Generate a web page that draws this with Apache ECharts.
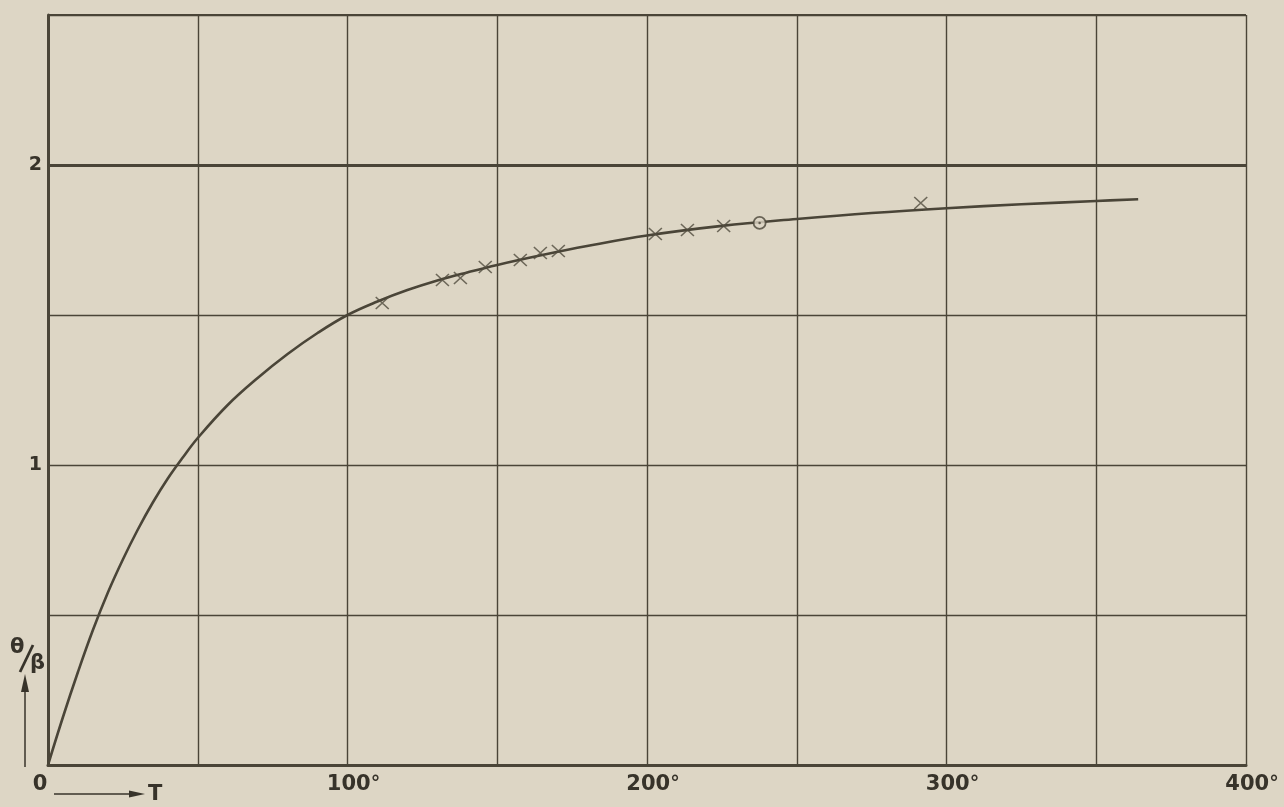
<!DOCTYPE html>
<html>
<head>
<meta charset="utf-8">
<script src="https://cdn.jsdelivr.net/npm/echarts@6/dist/echarts.min.js"></script>
<style>
  html, body { margin: 0; padding: 0; background: #ddd6c5; }
  #chart { width: 1284px; height: 807px; }
</style>
</head>
<body>
<div id="chart"></div>
<script>
// Smooth fitted curve θ/β versus T
const curveT = [0, 5, 10, 15, 20, 25, 30, 35, 40, 45, 50, 60, 70, 80, 90, 100, 110, 120, 130, 140, 150, 165, 180, 200, 225, 250, 275, 300, 325, 350, 364];
const curveV = [0, 0.16, 0.31, 0.45, 0.575, 0.685, 0.785, 0.875, 0.955, 1.025, 1.09, 1.2, 1.29, 1.37, 1.44, 1.5, 1.545, 1.583, 1.615, 1.642, 1.667, 1.7, 1.73, 1.765, 1.797, 1.82, 1.84, 1.856, 1.869, 1.88, 1.886];
// measured points (crosses)
const crossT = [111.6, 131.7, 137.7, 146, 157.7, 164.4, 170.4, 202.8, 213.5, 225.6, 291.4];
const crossV = [1.54, 1.617, 1.623, 1.66, 1.683, 1.707, 1.713, 1.77, 1.783, 1.797, 1.873];
// measured point (circle)
const circleT = [237.6];
const circleV = [1.807];
// tick labels
const xTickLabels = [0, 100, 200, 300, 400];
const yTickLabels = [1, 2];

const ink = '#4a4538';
const inkText = '#37332a';
const bg = '#ddd6c5';

const chart = echarts.init(document.getElementById('chart'));
const zip = (a, b) => a.map((v, i) => [v, b[i]]);

chart.setOption({
  backgroundColor: bg,
  animation: false,
  grid: { left: 48, right: 38, top: 15, bottom: 42, show: false },
  xAxis: {
    type: 'value', min: 0, max: 400, interval: 50,
    axisLine: { show: true, onZero: false, lineStyle: { color: ink, width: 3 } },
    axisTick: { show: false },
    splitLine: { show: true, lineStyle: { color: ink, width: 1.4 } },
    axisLabel: {
      margin: 9,
      formatter: v => {
        if (!xTickLabels.includes(v)) return '';
        if (v === 0) return '{z|0}';
        return '{n|' + v + '}{d|°}';
      },
      rich: {
        z: { fontFamily: 'DejaVu Sans', fontWeight: 'bold', fontSize: 21, color: inkText, padding: [0, 16, 0, 0] },
        n: { fontFamily: 'DejaVu Sans', fontWeight: 'bold', fontSize: 21, color: inkText, padding: [0, 0, 0, 12] },
        d: { fontFamily: 'DejaVu Sans', fontWeight: 'bold', fontSize: 19, color: inkText }
      }
    }
  },
  yAxis: {
    type: 'value', min: 0, max: 2.5, interval: 0.5,
    axisLine: { show: true, onZero: false, lineStyle: { color: ink, width: 3 } },
    axisTick: { show: false },
    splitLine: { show: true, lineStyle: { color: ink, width: 1.4 } },
    axisLabel: {
      margin: 6,
      fontFamily: 'DejaVu Sans', fontWeight: 'bold', fontSize: 19, color: inkText,
      formatter: v => yTickLabels.includes(v) ? String(v) : ''
    }
  },
  series: [
    {
      type: 'line',
      data: zip(curveT, curveV),
      smooth: 0.4,
      showSymbol: false,
      lineStyle: { color: ink, width: 2.6 },
      silent: true,
      z: 3,
      markLine: {
        silent: true,
        symbol: 'none',
        label: { show: false },
        data: [
          { yAxis: 2, lineStyle: { color: ink, width: 2.8, type: 'solid' } },
          { yAxis: 2.5, lineStyle: { color: ink, width: 2.0, type: 'solid' } }
        ]
      }
    },
    {
      type: 'scatter',
      data: zip(crossT, crossV),
      symbol: 'path://M0,0L12,11M12,0L0,11',
      symbolSize: [13, 12],
      itemStyle: { color: 'rgba(0,0,0,0)', borderColor: '#514c3f', borderWidth: 1.5 },
      silent: true,
      z: 4
    },
    {
      type: 'scatter',
      data: zip(circleT, circleV),
      symbol: 'circle',
      symbolSize: 12,
      itemStyle: { color: bg, borderColor: ink, borderWidth: 1.8 },
      silent: true,
      z: 5
    },
    {
      type: 'scatter',
      data: zip(circleT, circleV),
      symbol: 'circle',
      symbolSize: 2.5,
      itemStyle: { color: ink },
      silent: true,
      z: 6
    }
  ],
  graphic: [
    // θ/β axis name with upward arrow
    { type: 'text', left: 10, top: 637, style: { text: 'θ', font: 'bold 21px DejaVu Sans', fill: inkText } },
    { type: 'line', shape: { x1: 20, y1: 672, x2: 33, y2: 645 }, style: { stroke: inkText, lineWidth: 2.8 } },
    { type: 'text', left: 30, top: 653, style: { text: 'β', font: 'bold 21px DejaVu Sans', fill: inkText } },
    { type: 'line', shape: { x1: 25, y1: 767, x2: 25, y2: 690 }, style: { stroke: inkText, lineWidth: 1.5 } },
    { type: 'polygon', shape: { points: [[25, 674], [21, 692], [29, 692]] }, style: { fill: inkText } },
    // T axis name with rightward arrow
    { type: 'line', shape: { x1: 54, y1: 794, x2: 132, y2: 794 }, style: { stroke: inkText, lineWidth: 1.5 } },
    { type: 'polygon', shape: { points: [[145, 794], [129, 790.5], [129, 797.5]] }, style: { fill: inkText } },
    { type: 'text', left: 148, top: 784, style: { text: 'T', font: 'bold 21px DejaVu Sans', fill: inkText } }
  ]
});
</script>
</body>
</html>
